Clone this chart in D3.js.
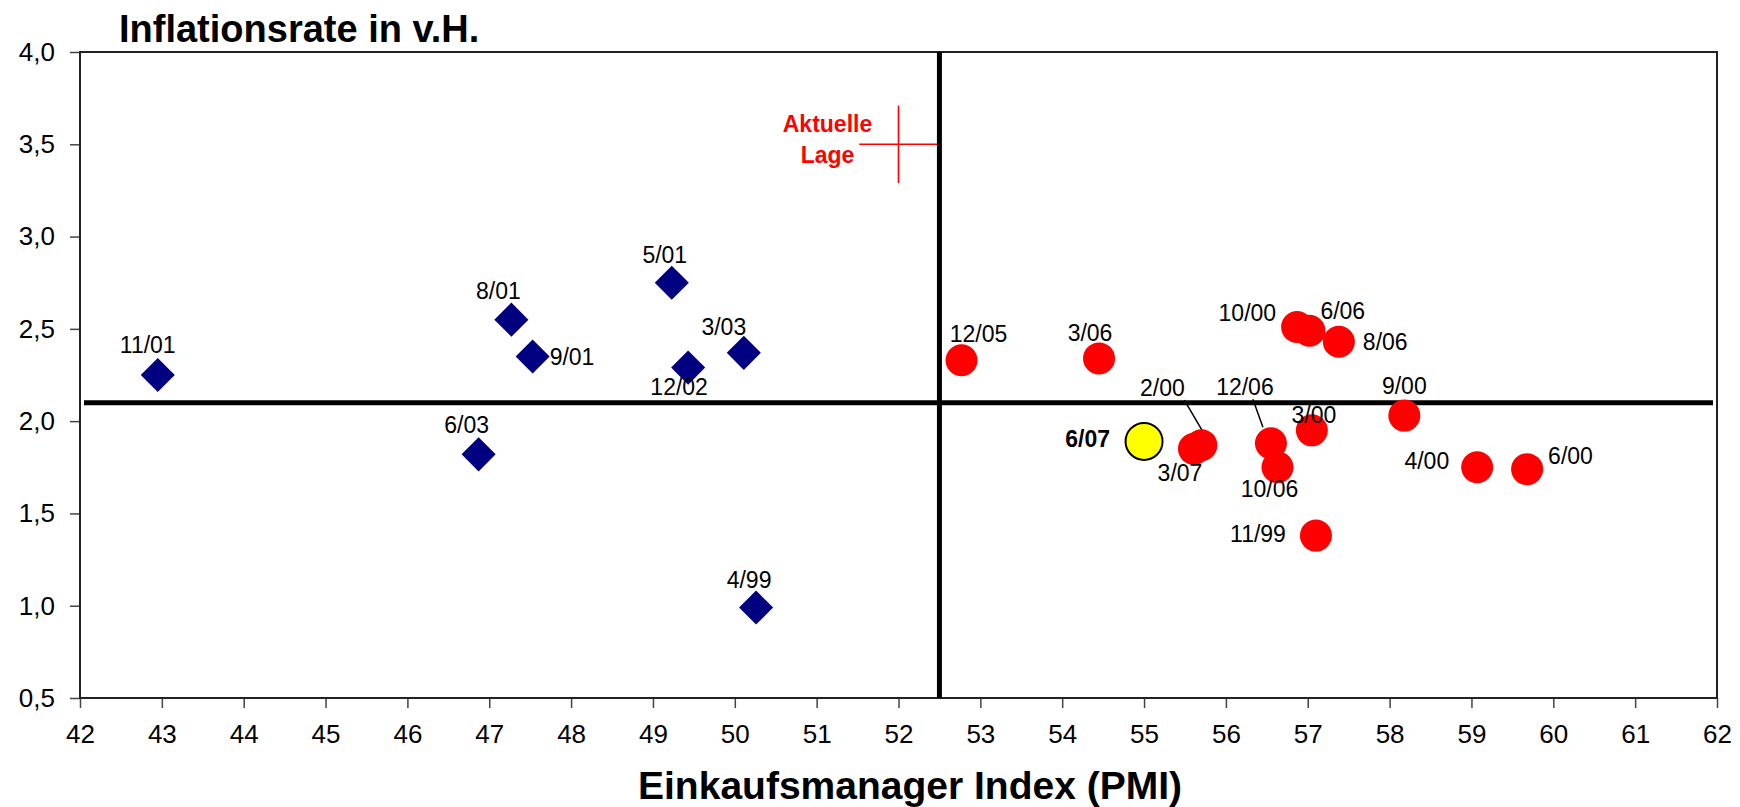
<!DOCTYPE html>
<html lang="de">
<head>
<meta charset="utf-8">
<title>Inflationsrate und Einkaufsmanager Index</title>
<script src="https://cdn.jsdelivr.net/npm/d3@7"></script>
<style>
  html, body { margin: 0; padding: 0; background: #ffffff; }
  svg { display: block; font-family: "Liberation Sans", Arial, Helvetica, sans-serif; }
</style>
</head>
<body>
<svg id="chart" width="1740" height="807"></svg>
<script>
// ---- Data -------------------------------------------------------------
// Phases with PMI below the threshold (diamonds)
const lowLabels = ["11/01", "8/01", "9/01", "5/01", "12/02", "3/03", "6/03", "4/99"];
const lowPmi    = [42.95, 47.27, 47.53, 49.23, 49.43, 50.11, 46.87, 50.26];
const lowInfl   = [2.25, 2.55, 2.35, 2.75, 2.29, 2.37, 1.82, 0.99];

// Phases with PMI above the threshold (circles)
const highLabels = ["12/05", "3/06", "10/00", "6/06", "8/06", "9/00", "3/00", "12/06", "10/06", "2/00", "3/07", "4/00", "6/00", "11/99"];
const highPmi    = [52.77, 54.45, 56.87, 57.02, 57.38, 58.18, 57.05, 56.55, 56.63, 55.70, 55.61, 59.07, 59.68, 57.10];
const highInfl   = [2.33, 2.34, 2.51, 2.49, 2.43, 2.03, 1.95, 1.88, 1.75, 1.87, 1.85, 1.75, 1.74, 1.38];

// Latest observation
const currentLabels = ["6/07"];
const currentPmi    = [55.0];
const currentInfl   = [1.89];

// Threshold lines
const pmiThreshold  = 52.5;
const inflThreshold = 2.1;

// "Aktuelle Lage" cross: centre and half-widths
const crossCenter = [52.0, 3.5];
const crossSpread = [0.48, 0.21];
const crossText   = ["Aktuelle", "Lage"];

// Axis ticks
const xTicks = [42, 43, 44, 45, 46, 47, 48, 49, 50, 51, 52, 53, 54, 55, 56, 57, 58, 59, 60, 61, 62];
const yTicks = [0.5, 1.0, 1.5, 2.0, 2.5, 3.0, 3.5, 4.0];

const titleText = "Inflationsrate in v.H.";
const xTitleText = "Einkaufsmanager Index (PMI)";

// ---- Layout -----------------------------------------------------------
const width = 1740, height = 807;
const margin = { top: 52, right: 23, bottom: 109, left: 80 };

// Label placement around each point: [dx, baseline dy, text-anchor]
const labelPlacement = {
  "11/01": [-10, -22, "middle"],
  "8/01":  [-13, -21, "middle"],
  "9/01":  [17, 8, "start"],
  "5/01":  [-7, -20, "middle"],
  "12/02": [-9, 27, "middle"],
  "3/03":  [-20, -18, "middle"],
  "6/03":  [-12, -21, "middle"],
  "4/99":  [-7, -20, "middle"],
  "12/05": [17, -18, "middle"],
  "3/06":  [-9, -17, "middle"],
  "10/00": [-21, -6, "end"],
  "6/06":  [11, -12, "start"],
  "8/06":  [24, 8, "start"],
  "9/00":  [0, -22, "middle"],
  "3/00":  [2, -7, "middle"],
  "12/06": [-26, -48, "middle"],
  "10/06": [-8, 30, "middle"],
  "2/00":  [-39, -49, "middle"],
  "3/07":  [-14, 32, "middle"],
  "4/00":  [-28, 2, "end"],
  "6/00":  [21, -5, "start"],
  "11/99": [-30, 6, "end"],
  "6/07":  [-34, 6, "end"]
};
// Leader lines from a label down to its point: [x0, y0, x1, y1] relative to the point
const leaderLines = {
  "2/00":  [-17, -45, 3, -11],
  "12/06": [-18, -44, -8, -16]
};

const svg = d3.select("#chart");

const x = d3.scaleLinear().domain([42, 62]).range([margin.left, width - margin.right]);
const y = d3.scaleLinear().domain([0.5, 4.0]).range([height - margin.bottom, margin.top]);

const deLocale = d3.formatLocale({ decimal: ",", thousands: ".", grouping: [3], currency: ["", " €"] });
const fmtY = deLocale.format(".1f");

// ---- Axes -------------------------------------------------------------
const yAxis = svg.append("g")
  .attr("transform", `translate(${margin.left},0)`)
  .call(d3.axisLeft(y).tickValues(yTicks).tickFormat(fmtY).tickSize(10).tickPadding(15));
const xAxis = svg.append("g")
  .attr("transform", `translate(0,${height - margin.bottom})`)
  .call(d3.axisBottom(x).tickValues(xTicks).tickFormat(d3.format("d")).tickSize(10).tickPadding(17));

[yAxis, xAxis].forEach(g => {
  g.select(".domain").remove();
  g.selectAll(".tick line").attr("stroke", "#444").attr("stroke-width", 1.5);
  g.selectAll(".tick text")
    .attr("fill", "#000")
    .style("font-size", "26px")
    .style("font-family", "'Liberation Sans', Arial, sans-serif");
});

// Plot frame
svg.append("rect")
  .attr("x", x(42)).attr("y", y(4.0))
  .attr("width", x(62) - x(42)).attr("height", y(0.5) - y(4.0))
  .attr("fill", "none").attr("stroke", "#222").attr("stroke-width", 2);

// ---- "Aktuelle Lage" marker ------------------------------------------
const cx0 = x(crossCenter[0]), cy0 = y(crossCenter[1]);
const cross = svg.append("g").attr("stroke", "#ff0000").attr("stroke-width", 1.6);
cross.append("line")
  .attr("x1", x(crossCenter[0] - crossSpread[0])).attr("x2", x(crossCenter[0] + crossSpread[0]))
  .attr("y1", cy0).attr("y2", cy0);
cross.append("line")
  .attr("x1", cx0).attr("x2", cx0)
  .attr("y1", y(crossCenter[1] + crossSpread[1])).attr("y2", y(crossCenter[1] - crossSpread[1]));

svg.append("g")
  .selectAll("text")
  .data(crossText)
  .join("text")
  .attr("x", cx0 - 71)
  .attr("y", (d, i) => cy0 - 12 + i * 31)
  .attr("text-anchor", "middle")
  .attr("fill", "#ff0000")
  .style("font-size", "23px")
  .style("font-weight", "bold")
  .text(d => d);

// ---- Threshold lines --------------------------------------------------
svg.append("line")
  .attr("x1", x(42) + 4).attr("x2", x(62) - 4)
  .attr("y1", y(inflThreshold)).attr("y2", y(inflThreshold))
  .attr("stroke", "#000").attr("stroke-width", 5);
svg.append("line")
  .attr("x1", x(pmiThreshold)).attr("x2", x(pmiThreshold))
  .attr("y1", y(4.0)).attr("y2", y(0.5))
  .attr("stroke", "#000").attr("stroke-width", 5);

// ---- Points -----------------------------------------------------------
const lowData = lowLabels.map((l, i) => ({ label: l, pmi: lowPmi[i], infl: lowInfl[i] }));
const highData = highLabels.map((l, i) => ({ label: l, pmi: highPmi[i], infl: highInfl[i] }));
const currentData = currentLabels.map((l, i) => ({ label: l, pmi: currentPmi[i], infl: currentInfl[i] }));

// leader lines
svg.append("g")
  .selectAll("line")
  .data(highData.filter(d => leaderLines[d.label]))
  .join("line")
  .attr("x1", d => x(d.pmi) + leaderLines[d.label][0])
  .attr("y1", d => y(d.infl) + leaderLines[d.label][1])
  .attr("x2", d => x(d.pmi) + leaderLines[d.label][2])
  .attr("y2", d => y(d.infl) + leaderLines[d.label][3])
  .attr("stroke", "#000").attr("stroke-width", 1.5);

const diamond = d3.symbol().type(d3.symbolSquare).size(580);
svg.append("g")
  .selectAll("path")
  .data(lowData)
  .join("path")
  .attr("d", diamond)
  .attr("transform", d => `translate(${x(d.pmi)},${y(d.infl)}) rotate(45)`)
  .attr("fill", "#000080");

svg.append("g")
  .selectAll("circle")
  .data(highData)
  .join("circle")
  .attr("cx", d => x(d.pmi))
  .attr("cy", d => y(d.infl))
  .attr("r", 16)
  .attr("fill", "#ff0000");

svg.append("g")
  .selectAll("circle")
  .data(currentData)
  .join("circle")
  .attr("cx", d => x(d.pmi))
  .attr("cy", d => y(d.infl))
  .attr("r", 18.5)
  .attr("fill", "#ffff00")
  .attr("stroke", "#000").attr("stroke-width", 2);

// ---- Point labels -----------------------------------------------------
function addLabels(data, bold) {
  svg.append("g")
    .selectAll("text")
    .data(data)
    .join("text")
    .attr("x", d => x(d.pmi) + labelPlacement[d.label][0])
    .attr("y", d => y(d.infl) + labelPlacement[d.label][1])
    .attr("text-anchor", d => labelPlacement[d.label][2])
    .attr("fill", "#000")
    .style("font-size", "23px")
    .style("font-weight", bold ? "bold" : "normal")
    .text(d => d.label);
}
addLabels(lowData, false);
addLabels(highData, false);
addLabels(currentData, true);

// ---- Titles -----------------------------------------------------------
svg.append("text")
  .attr("x", 119).attr("y", 42)
  .style("font-size", "38px").style("font-weight", "bold")
  .attr("fill", "#000")
  .text(titleText);

svg.append("text")
  .attr("x", 910).attr("y", 799)
  .attr("text-anchor", "middle")
  .style("font-size", "39px").style("font-weight", "bold")
  .attr("fill", "#000")
  .text(xTitleText);
</script>
</body>
</html>
